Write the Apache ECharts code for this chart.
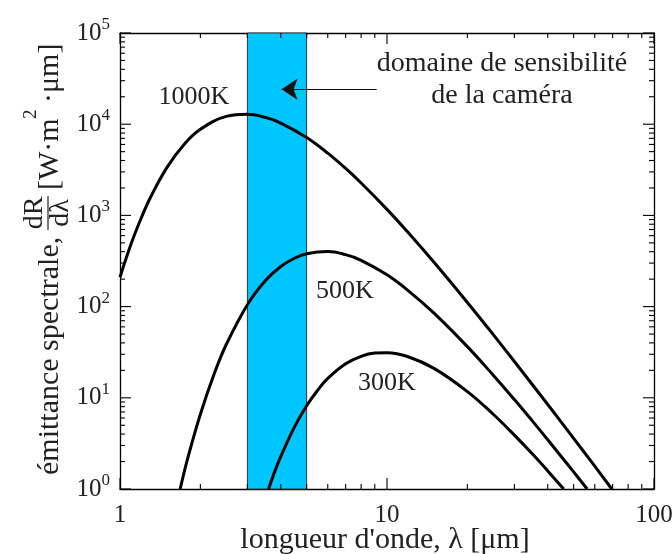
<!DOCTYPE html>
<html>
<head>
<meta charset="utf-8">
<script src="https://cdn.jsdelivr.net/npm/echarts@6/dist/echarts.min.js"></script>
<style>html,body{margin:0;padding:0;background:#fff;}#c{width:672px;height:554px;}</style>
</head>
<body>
<div id="c"></div>
<script>
// wavelength [µm] and spectral exitance [W.m^-2.µm^-1]
const lambda1000 = [1, 1.1, 1.2, 1.3, 1.5, 1.75, 2, 2.5, 3, 3.5, 4, 5, 6, 7, 8, 10, 12, 15, 20, 25, 30, 35, 40, 50, 60, 69.5];
const emit1000   = [210, 485, 930, 1570, 3360, 6130, 8790, 12170, 12830, 11870, 10300, 7140, 4810, 3270, 2265, 1164, 649, 306, 111, 49.3, 25.0, 14.0, 8.44, 3.59, 1.78, 1.0];
const lambda500  = [1.68, 1.8, 2, 2.25, 2.5, 3, 3.5, 4, 4.5, 5, 6, 7, 8, 10, 12, 15, 20, 25, 30, 35, 40, 45, 50, 56.2];
const emit500    = [1.0, 2.26, 6.6, 18.1, 38.4, 105, 192, 275, 339, 380, 401, 371, 322, 223, 150, 84.8, 36.4, 17.7, 9.57, 5.59, 3.47, 2.26, 1.54, 1.0];
const lambda300  = [3.6, 3.8, 4, 4.5, 5, 5.5, 6, 7, 8, 9, 10, 12, 15, 20, 25, 30, 35, 40, 45.9];
const emit300    = [1.0, 1.56, 2.27, 4.77, 8.18, 12.1, 16.3, 23.6, 28.5, 30.9, 31.2, 28.2, 21.0, 11.7, 6.6, 3.9, 2.43, 1.58, 1.0];
const curveNames = ['1000K', '500K', '300K'];
const cameraBand = [3, 5];               // µm
const arrowFrom = [9.15, 24150];
const arrowTo   = [4.03, 24150];
const xRange = [1, 100];
const yRange = [1, 100000];
const xMajorTicks = [1, 10, 100];
const xMinorTicks = [2, 3, 4, 5, 6, 7, 8, 9, 20, 30, 40, 50, 60, 70, 80, 90];
const yMajorTicks = [1, 10, 100, 1000, 10000, 100000];
const yMinorMantissa = [2, 3, 4, 5, 6, 7, 8, 9];

const FF = '"Liberation Serif", "DejaVu Serif", serif';
const TXT = '#222';
const pair = (xs, ys) => xs.map((x, i) => [x, ys[i]]);
const MAJOR = 11, MINOR = 5;

const yMinorTicks = [];
yMajorTicks.slice(0, -1).forEach(d => yMinorMantissa.forEach(m => yMinorTicks.push(m * d)));

const chart = echarts.init(document.getElementById('c'));

function xAxisDef(pos, showLabel) {
  return {
    type: 'log', logBase: 10, min: xRange[0], max: xRange[1], position: pos,
    interval: 1,
    axisLine: { show: true, onZero: false, lineStyle: { color: '#000', width: 1.3 } },
    axisTick: { show: false }, minorTick: { show: false },
    splitLine: { show: false }, minorSplitLine: { show: false },
    axisLabel: { show: showLabel, margin: 14, fontFamily: FF, fontSize: 25, color: TXT,
      formatter: v => String(Math.round(v)) }
  };
}
function yAxisDef(pos, showLabel) {
  return {
    type: 'log', logBase: 10, min: yRange[0], max: yRange[1], position: pos,
    interval: 1,
    axisLine: { show: true, onZero: false, lineStyle: { color: '#000', width: 1.3 } },
    axisTick: { show: false }, minorTick: { show: false },
    splitLine: { show: false }, minorSplitLine: { show: false },
    axisLabel: { show: showLabel, margin: 10, color: TXT,
      formatter: v => '{b|10}{s|' + Math.round(Math.log10(v)) + '}',
      rich: {
        b: { fontFamily: FF, fontSize: 25, lineHeight: 34, color: TXT },
        s: { fontFamily: FF, fontSize: 17, verticalAlign: 'top', color: TXT }
      } }
  };
}

const tickLine = (x1, y1, x2, y2) => ({ type: 'line', shape: { x1, y1, x2, y2 },
  style: { stroke: '#000', lineWidth: 1.1 } });

const xTickData = xMinorTicks.map(v => [v, yRange[0], MINOR]).concat(xMajorTicks.map(v => [v, yRange[0], MAJOR]));
const yTickData = yMinorTicks.map(v => [xRange[0], v, MINOR]).concat(yMajorTicks.map(v => [xRange[0], v, MAJOR]));

const curveStyle = { color: '#000', width: 3 };
const series = [
  { name: curveNames[0], type: 'line', data: pair(lambda1000, emit1000), smooth: 0.4, showSymbol: false,
    lineStyle: curveStyle, z: 3,
    markArea: { silent: true, z: 1,
      itemStyle: { color: '#00c6ff', borderColor: '#333', borderWidth: 1 },
      data: [[{ xAxis: cameraBand[0] }, { xAxis: cameraBand[1] }]] },
    markLine: { silent: true, z: 6, symbol: ['none', 'arrow'], symbolSize: 16,
      label: { show: false }, lineStyle: { color: '#111', width: 1.1, type: 'solid' },
      data: [[{ coord: arrowFrom }, { coord: arrowTo }]] }
  },
  { name: curveNames[1], type: 'line', data: pair(lambda500, emit500), smooth: 0.4, showSymbol: false,
    lineStyle: curveStyle, z: 3 },
  { name: curveNames[2], type: 'line', data: pair(lambda300, emit300), smooth: 0.4, showSymbol: false,
    lineStyle: curveStyle, z: 3 },
  { type: 'custom', silent: true, z: 8, data: xTickData,
    renderItem: (params, api) => {
      const v = api.value(0), len = api.value(2);
      const pb = api.coord([v, yRange[0]]), pt = api.coord([v, yRange[1]]);
      return { type: 'group', children: [
        tickLine(pb[0], pb[1], pb[0], pb[1] - len),
        tickLine(pt[0], pt[1], pt[0], pt[1] + len) ] };
    } },
  { type: 'custom', silent: true, z: 8, data: yTickData,
    renderItem: (params, api) => {
      const v = api.value(1), len = api.value(2);
      const pl = api.coord([xRange[0], v]), pr = api.coord([xRange[1], v]);
      return { type: 'group', children: [
        tickLine(pl[0], pl[1], pl[0] + len, pl[1]),
        tickLine(pr[0], pr[1], pr[0] - len, pr[1]) ] };
    } }
];

const tStyle = (txt, size) => ({ text: txt, fontFamily: FF, fontSize: size, fill: TXT, align: 'center', verticalAlign: 'middle' });
const yt = (txt, x, y, size, align) => ({ type: 'text', x: x, y: y,
  style: { text: txt, fontFamily: FF, fontSize: size, fill: TXT, align: align || 'left', verticalAlign: 'middle' } });

chart.setOption({
  animation: false,
  backgroundColor: '#fff',
  grid: { left: 120, right: 18, top: 33, bottom: 65, containLabel: false, outerBoundsMode: 'none' },
  xAxis: [xAxisDef('bottom', true), xAxisDef('top', false)],
  yAxis: [yAxisDef('left', true), yAxisDef('right', false)],
  series: series,
  graphic: [
    { type: 'text', x: 194, y: 97, style: tStyle(curveNames[0], 26) },
    { type: 'text', x: 345, y: 291, style: tStyle(curveNames[1], 26) },
    { type: 'text', x: 387, y: 383, style: tStyle(curveNames[2], 26) },
    { type: 'text', x: 502, y: 64, style: tStyle('domaine de sensibilité', 28) },
    { type: 'text', x: 502, y: 96, style: tStyle('de la caméra', 28) },
    { type: 'text', x: 385, y: 540, style: tStyle("longueur d'onde, λ [μm]", 30) },
    { type: 'group', x: 50, y: 475, rotation: Math.PI / 2,
      children: [
        yt('émittance spectrale,', 0, 0, 30),
        yt('dR', 262, -15, 28, 'center'),
        { type: 'line', shape: { x1: 245, y1: -2, x2: 279, y2: -2 }, style: { stroke: TXT, lineWidth: 1.2 } },
        yt('dλ', 262, 11, 28, 'center'),
        yt('[W·m', 285, 0, 30),
        yt('2', 356, -19, 19),
        yt('·', 372, 0, 30),
        yt('μm]', 382, 0, 30)
      ] }
  ]
});
</script>
</body>
</html>
